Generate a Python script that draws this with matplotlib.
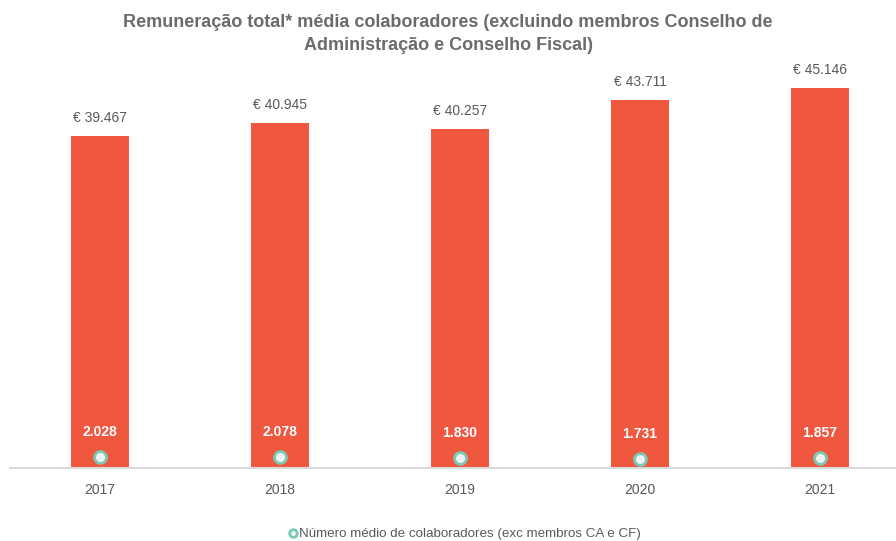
import matplotlib.pyplot as plt

plt.rcParams['font.family'] = ['Liberation Sans', 'DejaVu Sans']

# Dados
anos = ['2017', '2018', '2019', '2020', '2021']
remuneracao = [39467, 40945, 40257, 43711, 45146]
colaboradores = [2028, 2078, 1830, 1731, 1857]

cor_barra = '#F0573F'
cinza = '#595959'

fig = plt.figure(figsize=(8.96, 5.41), dpi=100)
ax = fig.add_axes([10 / 896, (541 - 468) / 541, 900 / 896, 420 / 541])
x = list(range(len(anos)))

ax.bar(x, remuneracao, width=58 / 180, color=cor_barra, zorder=2)
ax.set_xlim(-0.5, 4.5)
ax.set_ylim(0, 420 / 0.008414)
for i, v in enumerate(remuneracao):
    ax.annotate(f'€ {v:,}'.replace(',', '.'), (i, v), xytext=(0, 8), textcoords='offset points',
                ha='center', va='bottom', fontsize=10, color=cinza)

ax.set_xticks(x)
ax.set_xticklabels(anos, fontsize=10, color=cinza)
ax.tick_params(axis='x', length=0, pad=11)
ax.set_yticks([])
for s in ['top', 'right', 'left']:
    ax.spines[s].set_visible(False)
ax.spines['bottom'].set_color('#D9D9D9')
ax.spines['bottom'].set_linewidth(1.5)

ax2 = ax.twinx()
ax2.plot(x, colaboradores, linestyle='none', marker='o', markersize=8.5,
         markerfacecolor='#F2F2F2', markeredgecolor='#7ACBB5', markeredgewidth=2,
         label='Número médio de colaboradores (exc membros CA e CF)', zorder=3)
ax2.set_ylim(0, 80000)
ax2.set_yticks([])
for s in ['top', 'right', 'left', 'bottom']:
    ax2.spines[s].set_visible(False)
for i, v in enumerate(colaboradores):
    ax2.annotate(f'{v:,}'.replace(',', '.'), (i, v), xytext=(0, 13), textcoords='offset points',
                 ha='center', va='bottom', fontsize=10, color='white', fontweight='bold')

fig.legend(loc='center', bbox_to_anchor=(0.518, 1 - 534 / 541), frameon=False, fontsize=9.6,
           labelcolor=cinza, handletextpad=0.0, handlelength=0.8, markerscale=0.65)

fig.suptitle('Remuneração total* média colaboradores (excluindo membros Conselho de\nAdministração e Conselho Fiscal)',
             x=0.5, y=1 - 14 / 541, va='top', fontsize=13, fontweight='bold', color='#6B6B6B',
             linespacing=1.45)

fig.savefig('out.png', dpi=100)
